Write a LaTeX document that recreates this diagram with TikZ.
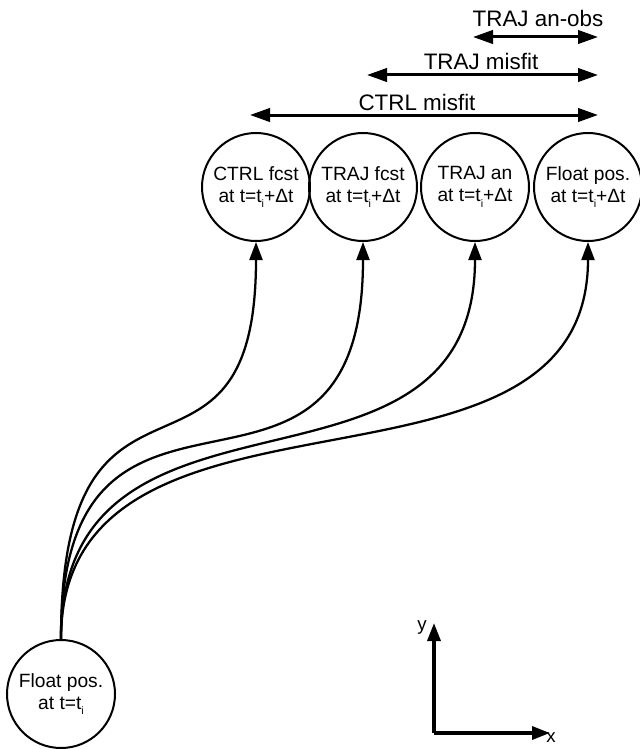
\documentclass[tikz,border=0pt]{standalone}
\usepackage{fontspec}
\setmainfont{Liberation Sans}
\usetikzlibrary{arrows.meta,positioning}
\newcommand{\lowi}{\raisebox{-0.55ex}{\fontsize{8}{8}\selectfont i}}

\begin{document}
\begin{tikzpicture}[x=0.75pt,y=0.75pt,yscale=-1,xscale=1,
    state/.style={draw, circle, line width=1.5pt, minimum size=81pt, inner sep=0pt, align=center, font=\fontsize{14.4}{16.5}\selectfont},
    flow/.style={line width=1.7pt, -{Triangle[length=13.5pt,width=9.75pt]}},
    span/.style={line width=2.25pt, {Triangle[length=15pt,width=10pt]}-{Triangle[length=15pt,width=10pt]}},
    axis/.style={line width=2.5pt, -{Triangle[length=13.5pt,width=9.75pt]}},
    spanlabel/.style={inner sep=0pt, anchor=south, font=\fontsize{16.8}{20}\selectfont}]
    \useasboundingbox (0,0) rectangle (639,749);

    %Shape: Circle (start position)
    \node [state] (floatstart) at (61,694) {Float pos.\\at t=t\lowi};

    %Shape: Circle (positions after one step)
    \node [state] (ctrlfcst) at (256,187) {CTRL fcst\\at t=t\lowi+Δt};
    \node [state] (trajfcst) at (363,187) {TRAJ fcst\\at t=t\lowi+Δt};
    \node [state] (trajan)   at (475,187) {TRAJ an\\at t=t\lowi+Δt};
    \node [state] (floatend) at (588,187) {Float pos.\\at t=t\lowi+Δt};

    %Curve Lines
    \draw [flow] (floatstart.north) .. controls +(0,-319) and +(0,283) .. (ctrlfcst.south);
    \draw [flow] (floatstart.north) .. controls +(0,-326) and +(0,324) .. (trajfcst.south);
    \draw [flow] (floatstart.north) .. controls +(0,-289) and +(0,287) .. (trajan.south);
    \draw [flow] (floatstart.north) .. controls +(0,-290) and +(0,287) .. (floatend.south);

    %Straight Lines [misfit spans]
    \coordinate (ctrlL) at (250,115);
    \coordinate (ctrlR) at (598,115);
    \coordinate (trajL) at (367,75);
    \coordinate (trajR) at (598,75);
    \coordinate (anobsL) at (473,37);
    \coordinate (anobsR) at (598,37);
    \draw [span] (ctrlL) -- (ctrlR);
    \draw [span] (trajL) -- (trajR);
    \draw [span] (anobsL) -- (anobsR);
    % Text Node
    \node [spanlabel] (ctrlmis) at (417,111) {CTRL misfit};
    \node [spanlabel] (trajmis) at (481,70) {TRAJ misfit};
    \node [spanlabel] (anobs) at (538,27) {TRAJ an-obs};

    %Axes
    \coordinate (orig) at (434,733);
    \coordinate (ytip) at (434,623);
    \coordinate (xtip) at (550,733);
    \draw [axis] (orig) -- (ytip);
    \draw [axis] (orig) -- (xtip);
    % Text Node
    \node [font=\fontsize{14}{16}\selectfont, inner sep=0pt] (ylab) at (422,627) {y};
    \node [font=\fontsize{14}{16}\selectfont, inner sep=0pt] (xlab) at (551,738) {x};
\end{tikzpicture}
\end{document}
